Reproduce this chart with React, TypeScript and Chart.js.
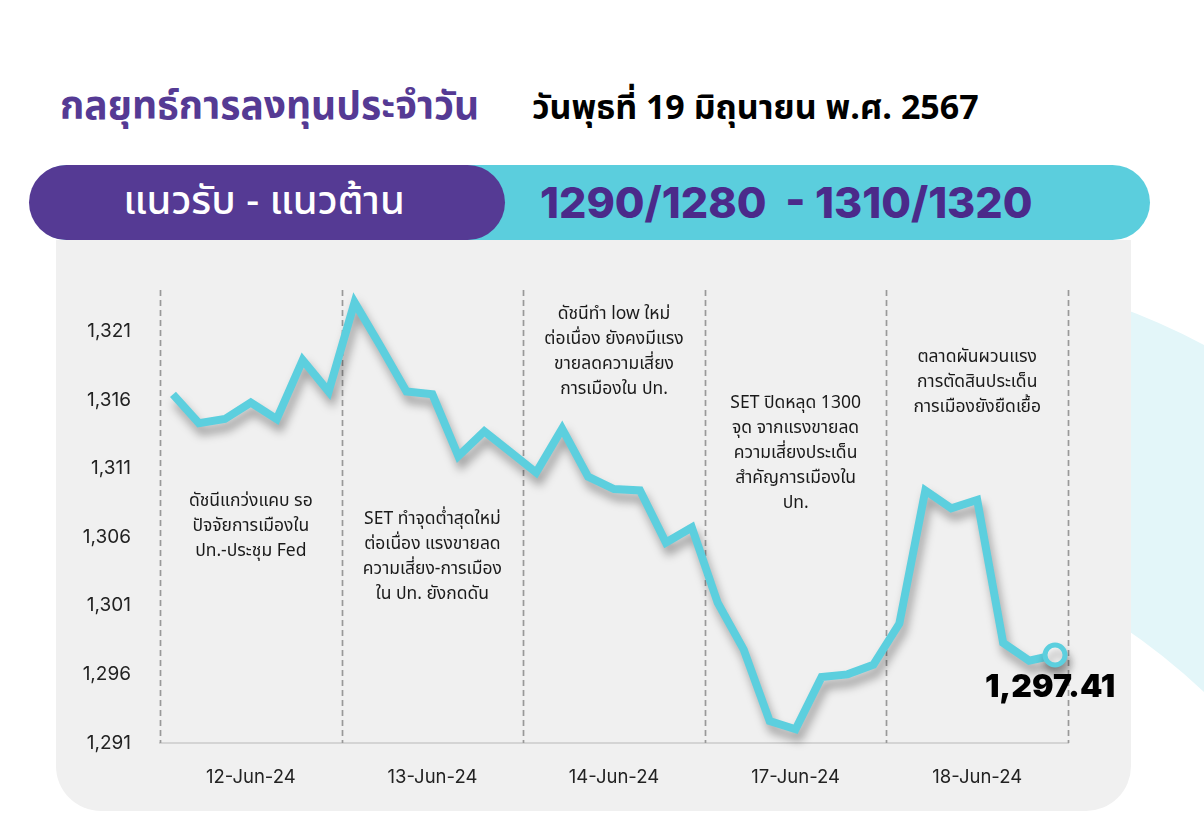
import React, { useEffect, useRef } from 'react';
import { Chart, registerables } from 'chart.js';

Chart.register(...registerables);

// ---- data ----
const days = ['12-Jun-24', '13-Jun-24', '14-Jun-24', '17-Jun-24', '18-Jun-24'];
const day1 = [1316.4, 1314.3, 1314.6, 1315.8, 1314.6, 1318.9, 1316.6];
const day2 = [1323.1, 1319.9, 1316.6, 1316.4, 1311.9, 1313.7, 1312.2];
const day3 = [1310.7, 1313.9, 1310.4, 1309.5, 1309.4, 1305.6, 1306.7];
const day4 = [1301.2, 1297.8, 1292.6, 1292.0, 1295.8, 1296.0, 1296.7];
const day5 = [1299.7, 1309.4, 1308.1, 1308.7, 1298.3, 1297.0, 1297.41];
const yTicks = [1291, 1296, 1301, 1306, 1311, 1316, 1321];
const yMin = 1291;
const yMax = 1324;
const lastValueLabel = '1,297.41';

const notes = [
  ['ดัชนีแกว่งแคบ รอ', 'ปัจจัยการเมืองใน', 'ปท.-ประชุม Fed'],
  ['SET ทำจุดต่ำสุดใหม่', 'ต่อเนื่อง แรงขายลด', 'ความเสี่ยง-การเมือง', 'ใน ปท. ยังกดดัน'],
  ['ดัชนีทำ low ใหม่', 'ต่อเนื่อง ยังคงมีแรง', 'ขายลดความเสี่ยง', 'การเมืองใน ปท.'],
  ['SET ปิดหลุด 1300', 'จุด จากแรงขายลด', 'ความเสี่ยงประเด็น', 'สำคัญการเมืองใน', 'ปท.'],
  ['ตลาดผันผวนแรง', 'การตัดสินประเด็น', 'การเมืองยังยืดเยื้อ'],
];
// first-line offset (px) below top of plot area for each note
const noteOffsets = [212, 230, 25, 114, 68];

const perDay = 7;
const series = [...day1, ...day2, ...day3, ...day4, ...day5];
const labels = series.map((_, i) => days[Math.floor(i / perDay)] + ' #' + ((i % perDay) + 1));

const LINE = '#5CCFDE';
const PURPLE = '#553A94';
const THAI = '"Noto Sans Thai", "Noto Sans", Inter, sans-serif';

export default function App() {
  const ref = useRef<HTMLCanvasElement | null>(null);

  useEffect(() => {
    document.body.style.margin = '0';
    const canvas = ref.current;
    if (!canvas) return;

    const shadowPlugin = {
      id: 'lineShadow',
      beforeDatasetDraw(chart: any) {
        const ctx = chart.ctx;
        ctx.save();
        ctx.shadowColor = 'rgba(0,0,0,0.35)';
        ctx.shadowBlur = 10;
        ctx.shadowOffsetX = 3;
        ctx.shadowOffsetY = 8;
      },
      afterDatasetDraw(chart: any) {
        chart.ctx.restore();
      },
    };

    const dayLinesPlugin = {
      id: 'dayLines',
      beforeDatasetsDraw(chart: any) {
        const { ctx, chartArea } = chart;
        const xs = chart.scales.x;
        const half = (xs.getPixelForValue(1) - xs.getPixelForValue(0)) / 2;
        ctx.save();
        ctx.strokeStyle = '#999999';
        ctx.lineWidth = 1.7;
        ctx.setLineDash([6, 4]);
        for (let d = 0; d <= days.length; d++) {
          const x = d < days.length
            ? xs.getPixelForValue(d * perDay) - half
            : xs.getPixelForValue(series.length - 1) + half;
          ctx.beginPath();
          ctx.moveTo(Math.round(x) + 0.5, chartArea.top);
          ctx.lineTo(Math.round(x) + 0.5, chartArea.bottom);
          ctx.stroke();
        }
        ctx.restore();

        // notes
        ctx.save();
        ctx.fillStyle = '#1a1a1a';
        ctx.font = '17.5px ' + THAI;
        ctx.textAlign = 'center';
        ctx.textBaseline = 'middle';
        notes.forEach((lines, d) => {
          const cx = (xs.getPixelForValue(d * perDay) + xs.getPixelForValue(d * perDay + perDay - 1)) / 2;
          lines.forEach((t, k) => {
            ctx.fillText(t, cx, chartArea.top + noteOffsets[d] + k * 25);
          });
        });
        ctx.restore();
      },
    };

    const lastLabelPlugin = {
      id: 'lastLabel',
      afterDatasetsDraw(chart: any) {
        const meta = chart.getDatasetMeta(0);
        const pt = meta.data[meta.data.length - 1];
        const ctx = chart.ctx;
        ctx.save();
        ctx.fillStyle = '#000';
        ctx.font = '900 32px Inter, Roboto, sans-serif';
        ctx.textAlign = 'center';
        ctx.textBaseline = 'middle';
        ctx.fillText(lastValueLabel, pt.x - 5, pt.y + 32);
        ctx.restore();
      },
    };

    const chart = new Chart(canvas, {
      type: 'line',
      data: {
        labels,
        datasets: [
          {
            data: series,
            borderColor: LINE,
            borderWidth: 8,
            borderJoinStyle: 'miter',
            tension: 0,
            fill: false,
            pointRadius: (c: any) => (c.dataIndex === series.length - 1 ? 10 : 0),
            pointHoverRadius: (c: any) => (c.dataIndex === series.length - 1 ? 10 : 0),
            pointBackgroundColor: '#ffffff',
            pointBorderColor: LINE,
            pointBorderWidth: 5,
            clip: false as any,
          },
        ],
      },
      options: {
        responsive: false,
        animation: false,
        devicePixelRatio: 1,
        layout: { padding: { left: 0, right: 63, top: 50, bottom: 0 } },
        plugins: {
          legend: { display: false },
          tooltip: { enabled: false },
          title: { display: false },
        },
        scales: {
          x: {
            type: 'category',
            offset: true,
            grid: { display: false, drawTicks: false },
            border: { display: true, color: '#d4d4d4', width: 2 },
            ticks: {
              autoSkip: false,
              maxRotation: 0,
              padding: 23,
              color: '#222',
              font: { size: 18.5, family: 'Inter, Roboto, sans-serif' },
              callback: (_v: any, i: number) =>
                i % perDay === Math.floor(perDay / 2) ? days[Math.floor(i / perDay)] : '',
            },
            afterFit: (s: any) => {
              s.height = 68;
            },
          },
          y: {
            min: yMin,
            max: yMax,
            grid: { display: false, drawTicks: false },
            border: { display: false },
            afterBuildTicks: (s: any) => {
              s.ticks = yTicks.map((v) => ({ value: v }));
            },
            ticks: {
              padding: 29,
              color: '#222',
              font: { size: 19, family: 'Inter, Roboto, sans-serif' },
              callback: (v: any) => Number(v).toLocaleString('en-US'),
            },
            afterFit: (s: any) => {
              s.width = 104;
            },
          },
        },
      },
      plugins: [dayLinesPlugin, shadowPlugin, lastLabelPlugin],
    } as any);

    return () => chart.destroy();
  }, []);

  return (
    <div style={{ position: 'absolute', left: 0, top: 0, width: 1204, height: 824, background: '#fff', overflow: 'hidden' }}>
      <svg width={1204} height={824} style={{ position: 'absolute', left: 0, top: 0 }}>
        <path d="M1000,275 Q1110,295 1204,345 L1204,692 Q1120,612 1000,560 Z" fill="#E3F6F9" />
      </svg>
      <div
        style={{
          position: 'absolute', left: 60, top: 83, height: 50, lineHeight: '50px',
          fontFamily: THAI, fontWeight: 700, fontSize: 39, color: PURPLE, whiteSpace: 'nowrap',
        }}
      >
        กลยุทธ์การลงทุนประจำวัน
      </div>
      <div
        style={{
          position: 'absolute', left: 532, top: 84, height: 50, lineHeight: '50px',
          fontFamily: THAI, fontWeight: 700, fontSize: 34, color: '#000', whiteSpace: 'nowrap',
        }}
      >
        วันพุธที่ 19 มิถุนายน พ.ศ. 2567
      </div>
      <div style={{ position: 'absolute', left: 56, top: 240, width: 1075, height: 571, background: '#F0F0F0', borderRadius: '0 0 45px 45px' }} />
      <div style={{ position: 'absolute', left: 30, top: 165, width: 1120, height: 75, background: '#5BCEDD', borderRadius: 38 }} />
      <div
        style={{
          position: 'absolute', left: 29, top: 165, width: 476, height: 75, background: PURPLE, borderRadius: 38,
          color: '#fff', fontFamily: THAI, fontSize: 40, fontWeight: 500, lineHeight: '75px', textAlign: 'center',
          whiteSpace: 'nowrap', paddingRight: 6, boxSizing: 'border-box',
        }}
      >
        แนวรับ - แนวต้าน
      </div>
      <div
        style={{
          position: 'absolute', left: 540, top: 165, height: 75, lineHeight: '75px',
          fontFamily: 'Inter, Roboto, sans-serif', fontWeight: 800, fontSize: 43, color: '#4B2A8A', whiteSpace: 'pre',
        }}
      >
        {'1290/1280  - 1310/1320'}
      </div>
      <canvas
        ref={ref}
        width={1075}
        height={571}
        style={{ position: 'absolute', left: 56, top: 240, width: 1075, height: 571 }}
      />
    </div>
  );
}
